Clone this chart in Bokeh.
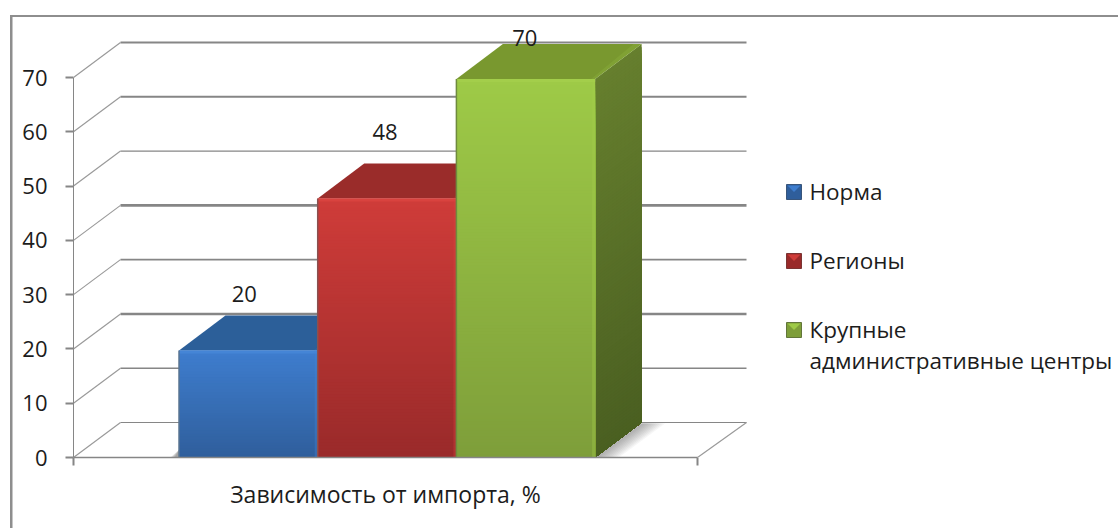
from bokeh.plotting import figure
from bokeh.models import Range1d, FixedTicker
from bokeh.core.properties import value as v_
from bokeh.embed import file_html
from bokeh.resources import INLINE

# ---------- data ----------
series_names = ["Норма", "Регионы", "Крупные"]
series_values = [20, 48, 70]
legend_second_line = ["", "", "административные центры"]
axis_title = "Зависимость от импорта, %"
y_ticks = [0, 10, 20, 30, 40, 50, 60, 70]

# ---------- styles ----------
front_top = ["#3E7DCE", "#CF3C39", "#9ECA47"]
front_bot = ["#2F5E9B", "#992A2A", "#7E9E3A"]
top_face = ["#2C5F99", "#9A2C2A", "#79982F"]
side_top = ["#2A5488", "#862624", "#667F2E"]
side_bot = ["#1F3E66", "#661C1B", "#4A5F21"]
bevel_col = ["#4585D6", "#D9433F", "#A3CE4B"]
edge_col = ["#5A7491", "#8A5150", "#6F8A3E"]
grid_w = [1.2, 1.6, 2.4, 1.6, 2.6, 1.2, 2.0, 2.0]
label_lift = [10.05, 12.0, 7.2]
label_shift = [-4, -2, -1]
font = v_("Open Sans")
GREY = "#868686"
INK = "#1C1C1C"

# ---------- layout (page pixels; the page written by file_html has no body margin) ----------
W, H = 1118, 528
X0 = 73
Y_ZERO = 457
Y_70 = 77
PX = (Y_ZERO - Y_70) / 70          # pixels per value unit
Y_TOP = Y_ZERO / PX
FLOOR_W = 624
DX, DY = 47, 35 / PX
BAR_L = 105.5
BAR_W = 138.7
BAR_DX = 46.5
TOP_GAP = 1.5 / PX                 # the bevelled tops sit just under the value
TXT = 22

p = figure(width=W, height=H, output_backend="svg", toolbar_location=None,
           x_range=Range1d(0, W - X0), y_range=Range1d(0, Y_TOP),
           min_border_left=X0, min_border_right=0, min_border_top=0,
           min_border_bottom=H - Y_ZERO)
p.outline_line_color = None
p.grid.visible = False
p.border_fill_color = None
p.background_fill_color = None

# chart border: top and left rules, drawn behind the transparent canvas
rule = "linear-gradient(#8E8E8E,#8E8E8E)"
p.styles = {
    "background-color": "white",
    "background-image": f"{rule},{rule}",
    "background-repeat": "no-repeat",
    "background-size": f"2.5px {H}px,{W}px 2px",
    "background-position": "9.5px 15px,9.5px 14.5px",
}

# axes
ya = p.yaxis[0]
ya.ticker = FixedTicker(ticks=y_ticks)
ya.bounds = (0, 70)
ya.axis_line_color = GREY
ya.axis_line_width = 1
ya.major_tick_line_color = GREY
ya.major_tick_line_width = 2
ya.major_tick_out = 8
ya.major_tick_in = 0
ya.minor_tick_line_color = None
ya.major_label_standoff = 18
ya.major_label_text_font = "Open Sans"
ya.major_label_text_font_size = f"{TXT}px"
ya.major_label_text_color = INK

xa = p.xaxis[0]
xa.ticker = FixedTicker(ticks=[FLOOR_W / 2], minor_ticks=[0, FLOOR_W])
xa.major_label_overrides = {FLOOR_W / 2: axis_title}
xa.bounds = (0, FLOOR_W)
xa.axis_line_color = GREY
xa.axis_line_width = 1.5
xa.major_tick_line_color = None
xa.major_tick_out = 0
xa.major_tick_in = 0
xa.minor_tick_line_color = GREY
xa.minor_tick_line_width = 2
xa.minor_tick_out = 8
xa.minor_tick_in = 0
xa.major_label_text_font = "Open Sans"
xa.major_label_text_font_size = "23px"
xa.major_label_text_color = INK
xa.major_label_standoff = 12

# walls
for t, w in zip(y_ticks, grid_w):
    p.segment(DX, t + DY, FLOOR_W + DX + 2, t + DY, line_color=GREY, line_width=w)
    p.segment(0, t, DX, t + DY, line_color="#9A9A9A", line_width=1.2)
p.segment(FLOOR_W, 0, FLOOR_W + DX + 2, DY, line_color="#9A9A9A", line_width=1.2)


def mix(a, b, f):
    ca = [int(a[i:i + 2], 16) for i in (1, 3, 5)]
    cb = [int(b[i:i + 2], 16) for i in (1, 3, 5)]
    return "#%02X%02X%02X" % tuple(round(x + (y - x) * f) for x, y in zip(ca, cb))


# floor shadows
N = 10
for k in range(N):
    g = k / N
    lft = BAR_L + 3 * BAR_W
    p.patch([lft, lft + BAR_DX, lft + BAR_DX + 4 + g * 22, lft + 4 + g * 22],
            [0, DY * 0.98, DY * 0.98, 0], fill_color="#555555", fill_alpha=0.05, line_color=None)
    p.patch([BAR_L, BAR_L, BAR_L - 9 + g * 6], [0, 1.4, 0], fill_color="#555555", fill_alpha=0.07, line_color=None)

# bars, back to front
for i, val in enumerate(series_values):
    left = BAR_L + i * BAR_W
    right = left + BAR_W
    top = val - TOP_GAP
    strips = max(16, int(val * PX / 3))
    # side face: gradient painted from the top down
    for s in range(strips):
        f0 = s / strips
        y1 = top * (1 - f0)
        p.patch([right, right + BAR_DX, right + BAR_DX, right],
                [0, DY, y1 + DY, y1], fill_color=mix(side_top[i], side_bot[i], f0), line_color=None)
    # top face
    p.patch([left, left + BAR_DX, right + BAR_DX, right],
            [top, top + DY, top + DY, top], fill_color=top_face[i], line_color=None)
    # lighter strip along the right edge of the top face
    p.patch([right - 4, right + BAR_DX - 8, right + BAR_DX, right],
            [top, top + DY, top + DY, top], fill_color=bevel_col[i], fill_alpha=0.18, line_color=None)
    # front face: gradient painted from the top down
    for s in range(strips):
        f0 = s / strips
        p.quad(left=left, right=right, bottom=0, top=top * (1 - f0),
               fill_color=mix(front_top[i], front_bot[i], f0), line_color=None)
    # bevels
    p.quad(left=left, right=right, bottom=top - 3 / PX, top=top, fill_color=bevel_col[i], line_color=None)
    p.quad(left=right - 3, right=right, bottom=0, top=top, fill_color=bevel_col[i], fill_alpha=0.35, line_color=None)
    p.segment(left, 0, left, top, line_color=edge_col[i], line_width=1.5)
    # value label
    p.text([left + BAR_W / 2 + label_shift[i]], [val + label_lift[i]], text=[str(val)],
           text_font=font, text_font_size=f"{TXT}px", text_color=INK,
           text_align="center", text_baseline="middle")

# legend
LEG_X = 786 - X0
LEG_Y = [191.5, 260.5, 329.5]
SW = 15
LEG_TXT = "22.5px"
TXT_UP = 1 / PX
for i, name in enumerate(series_names):
    yc = (Y_ZERO - LEG_Y[i]) / PX
    h = SW / 2 / PX
    p.quad(left=LEG_X, right=LEG_X + SW, bottom=yc - h, top=yc + h,
           fill_color=front_bot[i], line_color=side_bot[i], line_width=0.8)
    p.patch([LEG_X + 1, LEG_X + SW - 1, LEG_X + SW / 2], [yc + h - 1 / PX, yc + h - 1 / PX, yc],
            fill_color=front_top[i], line_color=None)
    p.text([LEG_X + 23], [yc + TXT_UP], text=[name], text_font=font, text_font_size=LEG_TXT,
           text_color=INK, text_align="left", text_baseline="middle")
    if legend_second_line[i]:
        p.text([LEG_X + 23], [yc + TXT_UP - 31 / PX], text=[legend_second_line[i]], text_font=font,
               text_font_size=LEG_TXT, text_color=INK, text_align="left", text_baseline="middle")

open("out.html", "w").write(file_html(p, INLINE))
